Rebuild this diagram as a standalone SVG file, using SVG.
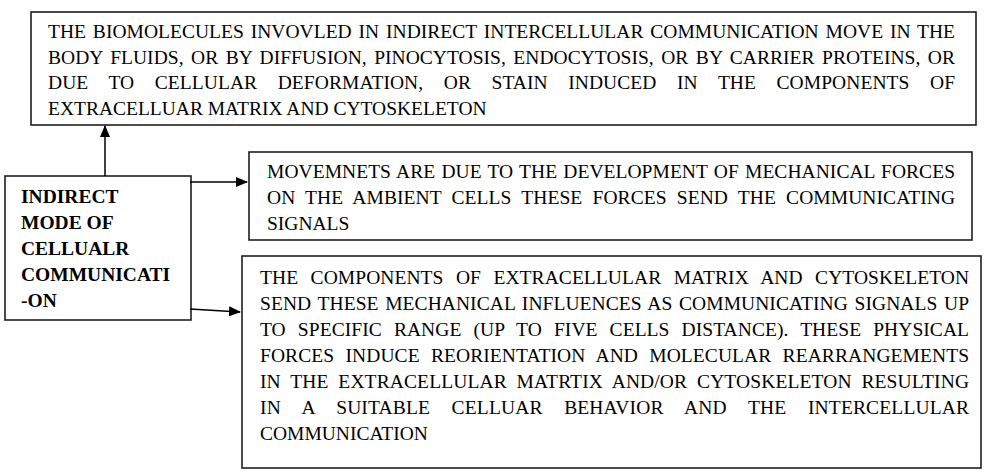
<svg xmlns="http://www.w3.org/2000/svg" width="988" height="472" viewBox="0 0 988 472">
<style>
.box{fill:#fff;stroke:#1e1e1e;stroke-width:1.6}
.t{font-family:"Liberation Serif","Times New Roman",serif;font-size:19.5px;fill:#000}
.b{font-family:"Liberation Serif","Times New Roman",serif;font-size:19.5px;font-weight:bold;fill:#000}
.c{stroke:#000;stroke-width:1.5;fill:none}
</style>
<defs>
<marker id="ah" markerWidth="12" markerHeight="10" refX="11" refY="5" orient="auto" markerUnits="userSpaceOnUse">
<path d="M0,0 L12,5 L0,10 Z" fill="#000"/>
</marker>
</defs>
<rect width="988" height="472" fill="#fff"/>
<g id="box-biomolecules">
<rect class="box" x="31" y="12" width="945" height="113"/>
<text class="t" x="48" y="38" textLength="907" lengthAdjust="spacing" style="word-spacing:1.9px">THE BIOMOLECULES INVOVLED IN INDIRECT INTERCELLULAR COMMUNICATION MOVE IN THE</text>
<text class="t" x="48" y="63.5" textLength="907" lengthAdjust="spacing" style="word-spacing:2.58px">BODY FLUIDS, OR BY DIFFUSION, PINOCYTOSIS, ENDOCYTOSIS, OR BY CARRIER PROTEINS, OR</text>
<text class="t" x="48" y="89" textLength="907" lengthAdjust="spacing" style="word-spacing:15.57px">DUE TO CELLULAR DEFORMATION, OR STAIN INDUCED IN THE COMPONENTS OF</text>
<text class="t" x="48" y="115">EXTRACELLUAR MATRIX AND CYTOSKELETON</text>
</g>
<g id="node-indirect">
<rect class="box" x="5" y="176" width="186" height="144"/>
<text class="b" x="21" y="203">INDIRECT</text>
<text class="b" x="21" y="229">MODE OF</text>
<text class="b" x="21" y="255">CELLUALR</text>
<text class="b" x="21" y="281">COMMUNICATI</text>
<text class="b" x="21" y="307">-ON</text>
</g>
<g id="box-movements">
<rect class="box" x="249" y="152" width="723" height="88"/>
<text class="t" x="267" y="178" textLength="688" lengthAdjust="spacing" style="word-spacing:1.24px">MOVEMNETS ARE DUE TO THE DEVELOPMENT OF MECHANICAL FORCES</text>
<text class="t" x="267" y="204" textLength="688" lengthAdjust="spacing" style="word-spacing:5.16px">ON THE AMBIENT CELLS THESE FORCES SEND THE COMMUNICATING</text>
<text class="t" x="267" y="230">SIGNALS</text>
</g>
<g id="box-components">
<rect class="box" x="242" y="256" width="739" height="212"/>
<text class="t" x="260" y="284" textLength="709" lengthAdjust="spacing" style="word-spacing:7.49px">THE COMPONENTS OF EXTRACELLULAR MATRIX AND CYTOSKELETON</text>
<text class="t" x="260" y="310" textLength="709" lengthAdjust="spacing" style="word-spacing:1.7px">SEND THESE MECHANICAL INFLUENCES AS COMMUNICATING SIGNALS UP</text>
<text class="t" x="260" y="336" textLength="709" lengthAdjust="spacing" style="word-spacing:7.16px">TO SPECIFIC RANGE (UP TO FIVE CELLS DISTANCE). THESE PHYSICAL</text>
<text class="t" x="260" y="362" textLength="709" lengthAdjust="spacing" style="word-spacing:6.29px">FORCES INDUCE REORIENTATION AND MOLECULAR REARRANGEMENTS</text>
<text class="t" x="260" y="388" textLength="709" lengthAdjust="spacing" style="word-spacing:4.79px">IN THE EXTRACELLULAR MATRTIX AND/OR CYTOSKELETON RESULTING</text>
<text class="t" x="260" y="414" textLength="709" lengthAdjust="spacing" style="word-spacing:16.57px">IN A SUITABLE CELLUAR BEHAVIOR AND THE INTERCELLULAR</text>
<text class="t" x="260" y="440">COMMUNICATION</text>
</g>
<g id="connectors">
<line class="c" x1="105" y1="176" x2="105" y2="126" marker-end="url(#ah)"/>
<line class="c" x1="190" y1="182" x2="247" y2="182" marker-end="url(#ah)"/>
<line class="c" x1="190" y1="309" x2="240" y2="312" marker-end="url(#ah)"/>
</g>
</svg>
